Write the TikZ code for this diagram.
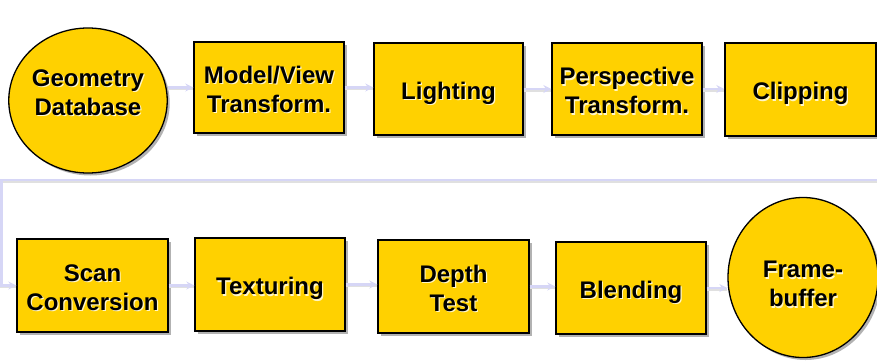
\documentclass[tikz,border=0pt]{standalone}
\usepackage{fontspec}
\setmainfont{Liberation Sans}
\usetikzlibrary{shapes.geometric,shadows,arrows.meta}
\definecolor{gold}{RGB}{255,209,0}
\definecolor{lav}{RGB}{214,214,246}
\definecolor{tshadow}{RGB}{255,246,200}
\newcommand{\ts}[1]{\leavevmode\rlap{\kern1.2pt\raisebox{-1.2pt}{\textcolor{tshadow}{#1}}}#1}
\newcommand{\lbl}[2][-4.5pt]{\raisebox{#1}[\height][\depth]{\begin{tabular}{@{}c@{}}#2\end{tabular}}}
\tikzset{
  stage/.style={draw=black, line width=1.3pt, fill=gold, rectangle, inner sep=0pt,
    font=\fontsize{24}{29}\selectfont\bfseries,
    drop shadow={shadow xshift=2.5pt, shadow yshift=-2.5pt, fill=black, opacity=0.3}},
  store/.style={stage, ellipse},
  conn/.style={draw=lav, line width=2.2pt, -{Stealth[length=8pt,width=8pt]},
    preaction={draw=black!12, line width=2.2pt, transform canvas={yshift=-1.5pt}, -}},
}
\begin{document}
\begin{tikzpicture}[x=1pt,y=-1pt]
\useasboundingbox (0,0) rectangle (877,362);
% row 1
\node[store, minimum width=157pt, minimum height=145pt] (geo) at (88,100.5) {\lbl[5.5pt]{\ts{Geometry}\\\ts{Database}}};
\node[stage, minimum width=150pt, minimum height=91pt] (mv) at (269,87.5) {\lbl{\ts{Model/View}\\\ts{Transform.}}};
\node[stage, minimum width=149pt, minimum height=92pt] (light) at (448.5,89) {\lbl{\ts{Lighting}}};
\node[stage, minimum width=150pt, minimum height=92pt] (persp) at (627,89) {\lbl{\ts{Perspective}\\\ts{Transform.}}};
\node[stage, minimum width=151pt, minimum height=93pt] (clip) at (800.5,89.5) {\lbl{\ts{Clipping}}};
% row 2
\node[stage, minimum width=151pt, minimum height=93pt] (scan) at (92.5,285.5) {\lbl{\ts{Scan}\\\ts{Conversion}}};
\node[stage, minimum width=150pt, minimum height=93pt] (tex) at (270,284.5) {\lbl{\ts{Texturing}}};
\node[stage, minimum width=151pt, minimum height=93pt] (depth) at (453.5,286.5) {\lbl{\ts{Depth}\\\ts{Test}}};
\node[stage, minimum width=150pt, minimum height=92pt] (blend) at (631,288) {\lbl{\ts{Blending}}};
\node[store, minimum width=150pt, minimum height=160pt] (fb) at (803,277.5) {\lbl[-9pt]{\ts{Frame-}\\\ts{buffer}}};
% connectors
\coordinate (rt) at (877,180);
\coordinate (lt) at (1.5,180);
\draw[conn] (geo.east |- mv.west) -- (mv.west);
\draw[conn] (mv.east) -- (light.west |- mv.east);
\draw[conn] (light.east) -- (persp.west |- light.east);
\draw[conn] (persp.east) -- (clip.west |- persp.east);
\draw[conn] (rt) -- (lt) |- (scan.west);
\draw[conn] (scan.east) -- (tex.west |- scan.east);
\draw[conn] (tex.east) -- (depth.west |- tex.east);
\draw[conn] (depth.east) -- (blend.west |- depth.east);
\draw[conn] (blend.east) -- (fb.west |- blend.east);
\end{tikzpicture}
\end{document}
